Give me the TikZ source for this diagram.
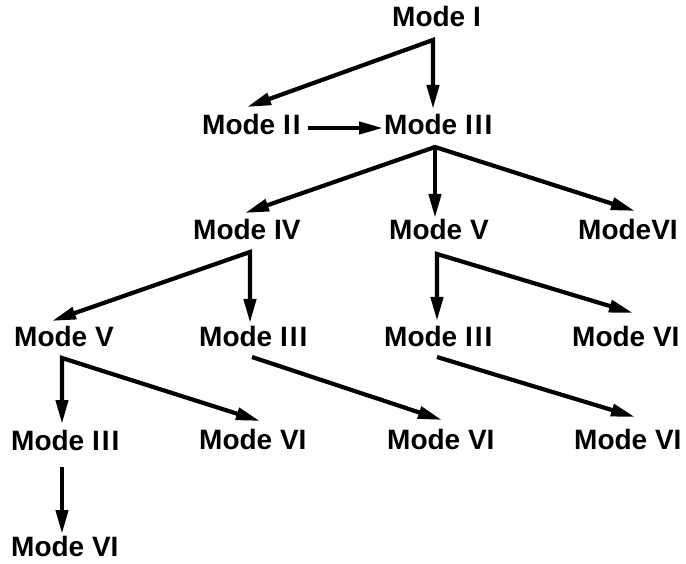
\documentclass[tikz,border=0pt]{standalone}
\usepackage{fontspec}
\setmainfont{Liberation Sans}
\usetikzlibrary{arrows.meta}
\newcommand{\rII}{I\kern2pt I}
\newcommand{\rIII}{I\kern2pt I\kern2pt I}
\begin{document}
\begin{tikzpicture}[x=1pt,y=-1pt,
  mode/.style={anchor=base west, inner sep=0pt, font=\fontsize{28}{30}\selectfont\bfseries},
  tip/.tip={Triangle[length=24pt,width=12pt]},
  conn/.style={line width=4.2pt, -tip},
  fork/.style={line width=4.2pt, tip-tip, line join=miter}]
\useasboundingbox (0,0) rectangle (686,564);
% nodes
\node[mode] (m1) at (392,27) {Mode I};
\node[mode] (m2) at (202,135) {Mode \rII};
\node[mode] (m3) at (384,135) {Mode \rIII};
\node[mode] (m4) at (193,240) {Mode IV};
\node[mode] (m5) at (389,240) {Mode V};
\node[mode] (m6) at (578,240) {ModeVI};
\node[mode] (m7) at (14,346) {Mode V};
\node[mode] (m8) at (199,346) {Mode \rIII};
\node[mode] (m9) at (384,346) {Mode \rIII};
\node[mode] (m10) at (572,346) {Mode VI};
\node[mode] (m11) at (11,450) {Mode \rIII};
\node[mode] (m12) at (199,449) {Mode VI};
\node[mode] (m13) at (387,449) {Mode VI};
\node[mode] (m14) at (574,449) {Mode VI};
\node[mode] (m15) at (11,556) {Mode VI};
% connector points
\coordinate (a1) at (433,40);
\coordinate (t2) at (247,107);
\coordinate (t3) at (433,109);
\coordinate (s23) at (308,128);
\coordinate (e23) at (383,128);
\coordinate (a3) at (435,147);
\coordinate (t4) at (245,213);
\coordinate (t5) at (435,218);
\coordinate (t6) at (635,211);
\coordinate (a4) at (250,252);
\coordinate (t7) at (52,321);
\coordinate (t8) at (250,323);
\coordinate (a5) at (437,254);
\coordinate (t9) at (437,321);
\coordinate (t10) at (633,313);
\coordinate (a7) at (62,358);
\coordinate (t11) at (62,424);
\coordinate (t12) at (260,421);
\coordinate (s8) at (252,357);
\coordinate (t13) at (442,420);
\coordinate (s9) at (437,357);
\coordinate (t14) at (635,417);
\coordinate (s11) at (62,467);
\coordinate (t15) at (62,534);
% connectors
\draw[fork] (t2) -- (a1) -- (t3);
\draw[conn] (s23) -- (e23);
\draw[fork] (t4) -- (a3) -- (t6);
\draw[conn] (a3) -- (t5);
\draw[fork] (t7) -- (a4) -- (t8);
\draw[fork] (t9) -- (a5) -- (t10);
\draw[fork] (t11) -- (a7) -- (t12);
\draw[conn] (s8) -- (t13);
\draw[conn] (s9) -- (t14);
\draw[conn] (s11) -- (t15);
\end{tikzpicture}
\end{document}
